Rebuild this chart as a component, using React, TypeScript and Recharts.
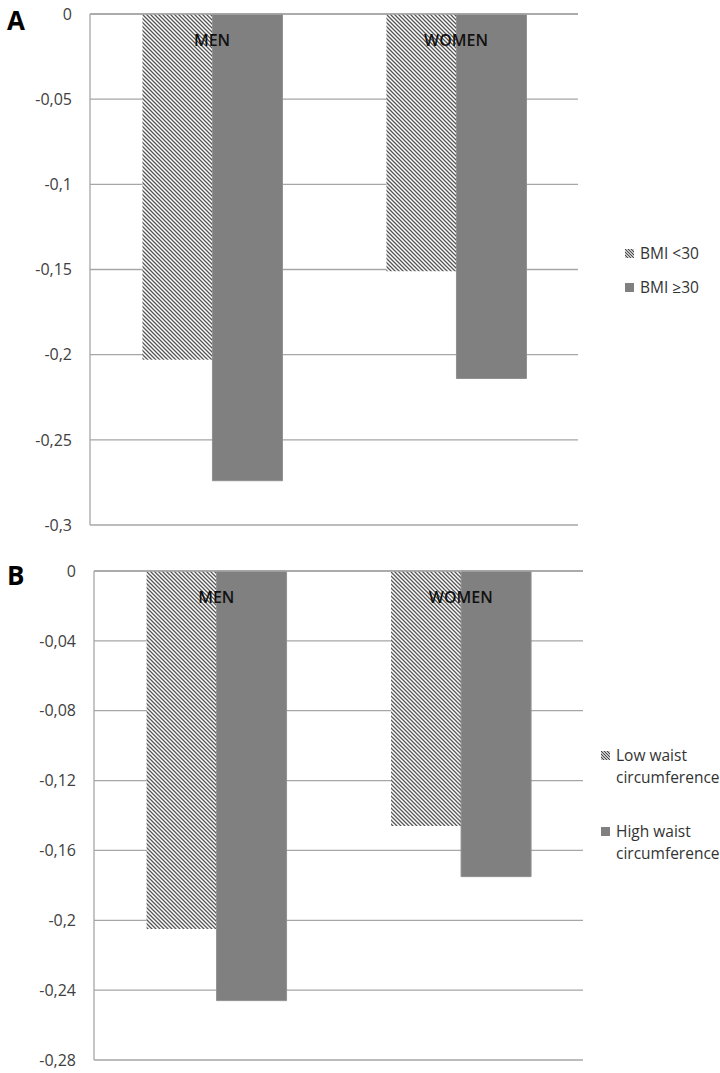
import { BarChart, Bar, XAxis, YAxis, CartesianGrid } from 'recharts';

// categories and values
const groups = ['MEN', 'WOMEN'];

const bmiLow = [-0.203, -0.151];
const bmiHigh = [-0.274, -0.214];
const bmiTicks = [0, -0.05, -0.1, -0.15, -0.2, -0.25, -0.3];

const waistLow = [-0.205, -0.146];
const waistHigh = [-0.246, -0.175];
const waistTicks = [0, -0.04, -0.08, -0.12, -0.16, -0.2, -0.24, -0.28];

const dataA = groups.map((g, i) => ({ group: g, low: bmiLow[i], high: bmiHigh[i] }));
const dataB = groups.map((g, i) => ({ group: g, low: waistLow[i], high: waistHigh[i] }));

const FONT = '"Open Sans", "Liberation Sans", sans-serif';
const GRID = '#a6a6a6';
const SOLID = '#808080';

const fmt = (v: number) => String(v).replace('.', ',');

const CatTick = (props: any) => {
  const { x, y, payload } = props;
  return (
    <text x={x} y={y} dy={32} textAnchor="middle" fontFamily={FONT} fontSize={16} fontWeight={600} fill="#111">
      {payload.value}
    </text>
  );
};

const Swatch = ({ hatched }: { hatched: boolean }) => (
  <svg width={9} height={9} style={{ marginRight: 6, flexShrink: 0 }}>
    <rect width={9} height={9} fill={hatched ? 'url(#hatchLegend)' : SOLID} />
  </svg>
);

const LegendBox = ({ items, gap, left, top }: any) => (
  <div style={{ position: 'absolute', left, top, fontFamily: FONT, fontSize: 15.5, color: '#333', lineHeight: '22px' }}>
    {items.map((it: any, i: number) => (
      <div key={i} style={{ display: 'flex', alignItems: 'flex-start', marginBottom: i === 0 ? gap : 0 }}>
        <div style={{ height: 22, display: 'flex', alignItems: 'center' }}>
          <Swatch hatched={it.hatched} />
        </div>
        <div>
          {it.label.map((l: string, j: number) => (
            <div key={j}>{l}</div>
          ))}
        </div>
      </div>
    ))}
  </div>
);

function Panel({ data, ticks, yWidth, right, height, top, bottom }: any) {
  const min = ticks[ticks.length - 1];
  return (
    <BarChart
      width={720}
      height={height}
      data={data}
      margin={{ top, right, bottom, left: 0 }}
      barCategoryGap="21.5%"
      barGap={0}
    >
      <defs>
        <pattern id={`hatch-${yWidth}`} width={4} height={4} patternUnits="userSpaceOnUse">
          <rect width={4} height={4} fill="#fff" />
          <path d="M-1,-1 L5,5 M3,-1 L5,1 M-1,3 L1,5" stroke="#555" strokeWidth={1.3} />
        </pattern>
      </defs>
      <CartesianGrid vertical={false} stroke={GRID} strokeWidth={1.3} />
      <XAxis
        dataKey="group"
        orientation="top"
        height={1}
        tickLine={false}
        tickSize={0}
        tickMargin={0}
        axisLine={{ stroke: GRID, strokeWidth: 1.3 }}
        tick={<CatTick />}
      />
      <YAxis
        domain={[min, 0]}
        ticks={ticks}
        width={yWidth}
        tickFormatter={fmt}
        tickLine={false}
        tickSize={0}
        tickMargin={18}
        axisLine={{ stroke: GRID, strokeWidth: 1.3 }}
        tick={{ fontFamily: FONT, fontSize: 16, fill: '#404040' }}
        interval={0}
      />
      <Bar dataKey="low" fill={`url(#hatch-${yWidth})`} isAnimationActive={false} />
      <Bar dataKey="high" fill={SOLID} stroke="#909090" strokeWidth={1} isAnimationActive={false} />
    </BarChart>
  );
}

export default function App() {
  return (
    <div style={{ position: 'absolute', left: 0, top: 0, width: 720, height: 1073, background: '#fff' }}>
      <svg width={0} height={0} style={{ position: 'absolute' }}>
        <defs>
          <pattern id="hatchLegend" width={3} height={3} patternUnits="userSpaceOnUse">
            <rect width={3} height={3} fill="#fff" />
            <path d="M-1,-1 L4,4 M2,-1 L4,1 M-1,2 L1,4" stroke="#444" strokeWidth={1.2} />
          </pattern>
        </defs>
      </svg>
      <div style={{ position: 'absolute', left: 0, top: 0 }}>
        <Panel data={dataA} ticks={bmiTicks} yWidth={90} right={142} height={545} top={13} bottom={20} />
        <LegendBox
          items={[
            { label: ['BMI <30'], hatched: true },
            { label: ['BMI \u226530'], hatched: false },
          ]}
          left={625}
          top={242}
          gap={12}
        />
        <div style={{ position: 'absolute', left: 7, top: 2, fontFamily: FONT, fontWeight: 700, fontSize: 26, color: '#000' }}>A</div>
      </div>
      <div style={{ position: 'absolute', left: 0, top: 557 }}>
        <Panel data={dataB} ticks={waistTicks} yWidth={94} right={137} height={516} top={13} bottom={13} />
        <LegendBox
          items={[
            { label: ['Low waist', 'circumference'], hatched: true },
            { label: ['High waist', 'circumference'], hatched: false },
          ]}
          left={601}
          top={187}
          gap={32}
        />
        <div style={{ position: 'absolute', left: 7, top: 0, fontFamily: FONT, fontWeight: 700, fontSize: 26, color: '#000' }}>B</div>
      </div>
    </div>
  );
}
